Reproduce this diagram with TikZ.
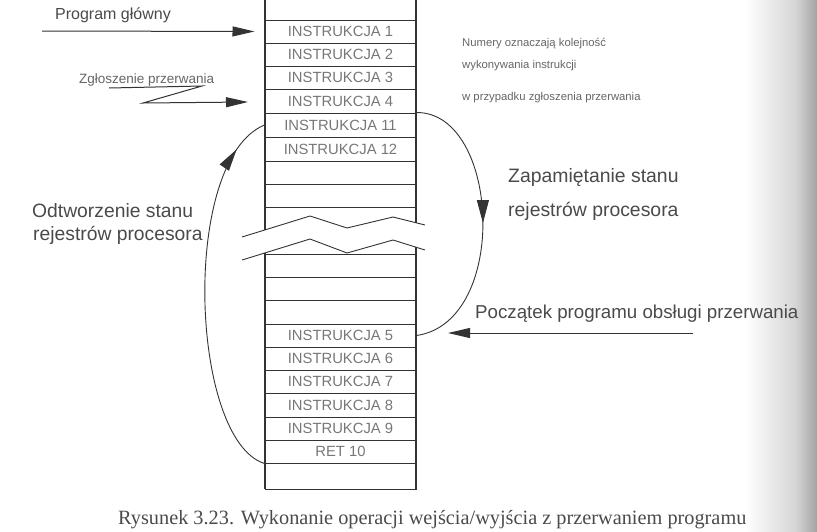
\documentclass[tikz,border=0pt]{standalone}
\usepackage{fontspec}
\setmainfont{Liberation Serif}
\setsansfont{Liberation Sans}
\usetikzlibrary{arrows.meta,decorations.markings}
\definecolor{ink}{HTML}{333333}
\definecolor{lbl}{HTML}{4A4A4A}
\definecolor{cellt}{HTML}{777777}
\definecolor{note}{HTML}{666666}
\tikzset{
  cell/.style={draw=ink, line width=1pt, minimum width=151pt, inner sep=0pt,
    font=\sffamily\fontsize{14.8}{16}\selectfont, text=cellt},
  col/.style={draw=ink, line width=1.1pt},
  bigtip/.style={-{Triangle[length=22pt,width=10pt]}, draw=ink, line width=1pt},
  curve/.style={draw=ink, line width=0.9pt},
  lab/.style={font=\sffamily\fontsize{18.7}{20}\selectfont, text=lbl, inner sep=0pt, anchor=base west},
  small/.style={font=\sffamily\fontsize{11.3}{12}\selectfont, text=note, inner sep=0pt, anchor=base west},
}
\begin{document}
\begin{tikzpicture}[x=1pt,y=-1pt]
\useasboundingbox (0,0) rectangle (817,531);
% page-edge shading
\shade[left color=white, right color=black!16] (745,0) rectangle (795,531);
\shade[left color=black!16, right color=black!36] (795,0) rectangle (817,531);
% column verticals
\draw[col] (265,0) -- (265,230);
\draw[col] (416,0) -- (416,223);
\draw[col] (265,253) -- (265,489);
\draw[col] (416,247) -- (416,489);
% upper cells
\node[cell, minimum height=23pt] (i1) at (340.5,31.5) {INSTRUKCJA 1};
\node[cell, minimum height=23pt] (i2) at (340.5,54.5) {INSTRUKCJA 2};
\node[cell, minimum height=23pt] (i3) at (340.5,77.5) {INSTRUKCJA 3};
\node[cell, minimum height=24pt] (i4) at (340.5,101) {INSTRUKCJA 4};
\node[cell, minimum height=24pt] (i11) at (340.5,125) {INSTRUKCJA 11};
\node[cell, minimum height=24pt] (i12) at (340.5,149) {INSTRUKCJA 12};
\node[cell, minimum height=23pt] (ea) at (340.5,172.5) {};
\node[cell, minimum height=23pt] (eb) at (340.5,195.5) {};
% lower cells
\node[cell, minimum height=23pt] (ec) at (340.5,265.5) {};
\node[cell, minimum height=23pt] (ed) at (340.5,288.5) {};
\node[cell, minimum height=24pt] (ee) at (340.5,312) {};
\node[cell, minimum height=23pt] (i5) at (340.5,335.5) {INSTRUKCJA 5};
\node[cell, minimum height=23pt] (i6) at (340.5,358.5) {INSTRUKCJA 6};
\node[cell, minimum height=23pt] (i7) at (340.5,381.5) {INSTRUKCJA 7};
\node[cell, minimum height=24pt] (i8) at (340.5,405) {INSTRUKCJA 8};
\node[cell, minimum height=23pt] (i9) at (340.5,428.5) {INSTRUKCJA 9};
\node[cell, minimum height=23pt] (r10) at (340.5,451.5) {RET 10};
\node[cell, minimum height=26pt] (ef) at (340.5,476) {};
% break lines
\draw[curve] (242,237) -- (310,216) -- (347,228) -- (393,217) -- (425,225);
\draw[curve] (242,260) -- (310,239) -- (347,253) -- (393,240) -- (425,250);
% labels
\node[lab, font=\sffamily\fontsize{16}{18}\selectfont] (pg) at (55,19.5) {Program główny};
\node[font=\sffamily\fontsize{13.5}{14}\selectfont, text=note, inner sep=0pt, anchor=base west] (zp) at (79,83) {Zgłoszenie przerwania};
\node[small] (n1) at (462,46) {Numery oznaczają kolejność};
\node[small] (n2) at (462,68) {wykonywania instrukcji};
\node[small] (n3) at (462,100) {w przypadku zgłoszenia przerwania};
\node[lab, font=\sffamily\fontsize{19.4}{21}\selectfont] (zs1) at (508,182) {Zapamiętanie stanu};
\node[lab, font=\sffamily\fontsize{19.4}{21}\selectfont] (zs2) at (508,216) {rejestrów procesora};
\node[lab, font=\sffamily\fontsize{19.3}{21}\selectfont] (od1) at (32,217) {Odtworzenie stanu};
\node[lab, font=\sffamily\fontsize{19.3}{21}\selectfont] (od2) at (33,240) {rejestrów procesora};
\node[lab] (pp) at (475,318) {Początek programu obsługi przerwania};
\node[font=\fontsize{20.3}{22}\selectfont, text=lbl, inner sep=0pt, anchor=base west] (cap) at (118,524)
  {Rysunek 3.23. Wykonanie operacji wejścia/wyjścia z przerwaniem programu};
% straight arrows
\coordinate (pgs) at (42,31);
\draw[bigtip, shorten >=10pt] (pgs) -- (i1.west);
\coordinate (z1) at (109,88);
\coordinate (z2) at (202,86);
\coordinate (z3) at (143,103);
\coordinate (z4) at (248,102);
\draw[bigtip] (z1) -- (z2) -- (z3) -- (z4);
\coordinate (pps) at (693,333);
\coordinate (ppe) at (448,333);
\draw[bigtip] (pps) -- (ppe);
% curves
\draw[curve, postaction={decorate}, decoration={markings,
   mark=at position 0.5 with {\arrow{Triangle[length=23pt,width=12pt]}}}]
  (i11.north east) .. controls (500,112) and (510,322) .. (i5.east);
\draw[curve, postaction={decorate}, decoration={markings,
   mark=at position 0.9 with {\arrow{Triangle[length=22pt,width=11pt]}}}]
  (r10.south west) .. controls (190,440) and (180,160) .. (i11.west);
\end{tikzpicture}
\end{document}
